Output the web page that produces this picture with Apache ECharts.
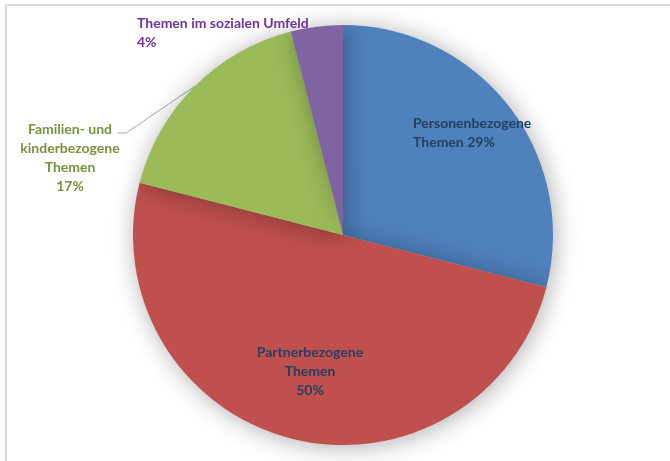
<!DOCTYPE html>
<html>
<head>
<meta charset="utf-8">
<script src="https://cdn.jsdelivr.net/npm/echarts@6/dist/echarts.min.js"></script>
<style>html,body{margin:0;padding:0;background:#fff;}#c{width:670px;height:461px;}</style>
</head>
<body>
<div id="c"></div>
<script>
var categories = ['Personenbezogene\nThemen', 'Partnerbezogene\nThemen', 'Familien- und\nkinderbezogene\nThemen', 'Themen im sozialen Umfeld'];
var values = [29, 50, 17, 4];
var percentSeparators = [' ', '\n', '\n', '\n'];

var colors = ['#4F81BD', '#C0504D', '#9BBB59', '#8064A2'];
var labelColors = ['#243F60', '#243F60', '#76923C', '#7030A0'];
// label anchor placements [x, y, align]
var labelPlace = [[413, 133, 'left'], [310, 371, 'center'], [70, 158, 'center'], [137, 33, 'left']];

var chart = echarts.init(document.getElementById('c'));
var data = categories.map(function (c, i) {
  return {
    name: c, value: values[i],
    itemStyle: { color: colors[i] },
    label: { color: labelColors[i], align: labelPlace[i][2] },
    labelLine: { show: i === 2 }
  };
});
chart.setOption({
  animation: false,
  graphic: [{
    type: 'rect', shape: { x: 6, y: 5, width: 700, height: 500 },
    style: { fill: 'none', stroke: '#d9d9d9', lineWidth: 2 }, silent: true, z: -1
  }],
  series: [{
    type: 'pie',
    center: [343, 235],
    radius: 210,
    startAngle: 90,
    clockwise: true,
    avoidLabelOverlap: false,
    itemStyle: { shadowBlur: 24, shadowColor: 'rgba(0,0,0,0.32)', shadowOffsetX: 2, shadowOffsetY: 2 },
    label: {
      show: true,
      position: 'outside',
      fontFamily: 'Lato',
      fontWeight: 'bold',
      fontSize: 14,
      lineHeight: 19,
      formatter: function (p) {
        return p.name + percentSeparators[p.dataIndex] + Math.round(p.percent) + '%';
      }
    },
    labelLine: { lineStyle: { color: '#a6a6a6', width: 1 } },
    emphasis: { disabled: true },
    labelLayout: function (p) {
      var pl = labelPlace[p.dataIndex];
      var res = { x: pl[0], y: pl[1], align: pl[2], verticalAlign: 'middle' };
      if (p.dataIndex === 2 && p.labelLinePoints) {
        var start = p.labelLinePoints[0];
        var right = pl[0] + 48;
        var ly = pl[1] - 25;
        res.labelLinePoints = [start, [right + 8, ly], [right, ly]];
      }
      return res;
    },
    data: data
  }]
});
</script>
</body>
</html>
